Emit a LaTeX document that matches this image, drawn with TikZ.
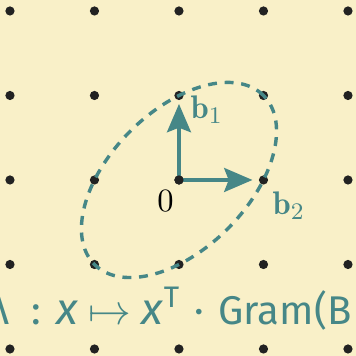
\documentclass[tikz,border=0pt]{standalone}
\usepackage{fontspec}
\setsansfont{Fira Sans}
\usetikzlibrary{arrows.meta}
\definecolor{figFons}{HTML}{F9F0C8}
\definecolor{figT}{HTML}{468787}
\definecolor{figP}{HTML}{222222}

\begin{document}
\begin{tikzpicture}[x=1cm,y=1cm,>={Stealth[length=9.5pt,width=8pt,inset=1.5pt]}]
% Fons i marges
\fill[figFons] (-2.118,-2.083) rectangle (2.095,2.130);
\useasboundingbox (-2.118,-2.083) rectangle (2.095,2.130);
\clip (-2.118,-2.083) rectangle (2.095,2.130);
% Xarxa de punts
\foreach \x in {-2,...,2}
  \foreach \y in {-2,...,2}
    \fill[figP] (\x,\y) circle (1.55pt);
% Bola unitat de la forma quadratica
\draw[figT,line width=1.15pt,dash pattern=on 3pt off 2.6pt,rotate=45] (0,0) ellipse (1.414 and 0.816);
% Base
\coordinate (O) at (0,0);
\coordinate (B1) at (0,0.9);
\coordinate (B2) at (0.87,0);
\draw[->,line width=1.45pt,figT] (O) -- (B1);
\draw[->,line width=1.45pt,figT] (O) -- (B2);
\fill[figP] (O) circle (1.55pt);
\node (b1) at (0.33,0.83) {\fontsize{11}{13}\selectfont\color{figT}$\mathbf{b}_1$};
\node (b2) at (1.3,-0.3) {\fontsize{11}{13}\selectfont\color{figT}$\mathbf{b}_2$};
\node (zero) at (-0.16,-0.25) {\fontsize{10.5}{12}\selectfont$0$};
% Aplicacio
\node[anchor=base west,inner sep=0pt,text=figT] (fq) at (-2.29,-1.716)
  {\fontsize{13.5}{16}\selectfont\sffamily Λ\hspace{7.5pt}:\hspace{5.2pt}{\fontsize{15}{16}\selectfont\textit{x}}\hspace{3.5pt}{\fontsize{15}{16}\selectfont$\mapsto$}\hspace{3.5pt}{\fontsize{15}{16}\selectfont\textit{x}}\raisebox{6pt}{\fontsize{10}{10}\selectfont T}\hspace{5pt}·\hspace{5pt}Gram(B};
\end{tikzpicture}
\end{document}
